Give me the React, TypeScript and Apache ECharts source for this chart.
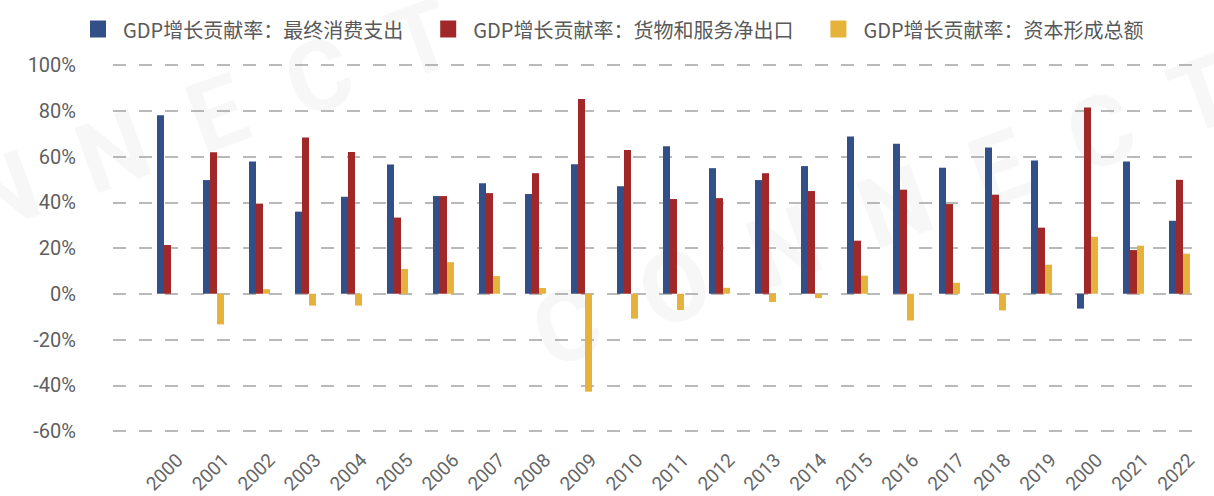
import React, { useEffect, useRef } from "react";
import * as echarts from "echarts";

const categories = [
  "2000", "2001", "2002", "2003", "2004", "2005", "2006", "2007", "2008", "2009",
  "2010", "2011", "2012", "2013", "2014", "2015", "2016", "2017", "2018", "2019",
  "2000", "2021", "2022",
];

const seriesNames = [
  "GDP增长贡献率：最终消费支出",
  "GDP增长贡献率：货物和服务净出口",
  "GDP增长贡献率：资本形成总额",
];

const consumption = [
  78.0, 49.7, 57.8, 35.9, 42.4, 56.5, 42.7, 48.3, 43.6, 56.6,
  47.0, 64.5, 54.9, 49.7, 55.8, 68.7, 65.6, 55.1, 63.9, 58.2,
  -6.5, 57.8, 31.9,
];

const netExports = [
  21.3, 61.9, 39.4, 68.3, 62.0, 33.3, 42.7, 44.0, 52.7, 85.1,
  62.8, 41.4, 41.8, 52.7, 44.9, 23.2, 45.5, 39.2, 43.3, 28.9,
  81.4, 19.1, 49.8,
];

const capital = [
  0, -13.4, 2.0, -5.2, -5.2, 10.8, 13.8, 7.7, 2.5, -42.8,
  -10.9, -7.1, 2.6, -3.6, -1.9, 7.9, -11.7, 4.8, -7.3, 12.7,
  24.9, 21.0, 17.5,
];

const yTicks = { min: -60, max: 100, interval: 20 };

const colors = ["#324f88", "#a02828", "#e5b33c"];

export default function App() {
  const ref = useRef<HTMLDivElement>(null);

  useEffect(() => {
    if (!ref.current) return;
    const chart = echarts.init(ref.current, undefined, { renderer: "svg" });
    const axisFont = "Roboto, 'Noto Sans', sans-serif";
    const wmStyle = {
      fontSize: 98,
      fontWeight: "bold",
      fontFamily: "Roboto, sans-serif",
      fill: "rgba(0,0,0,0.03)",
      textVerticalAlign: "middle",
      textAlign: "left",
    };
    chart.setOption({
      animation: false,
      backgroundColor: "#ffffff",
      color: colors,
      graphic: [
        {
          type: "text",
          x: -245,
          y: 283,
          rotation: 0.35,
          z: 0,
          silent: true,
          style: { ...wmStyle, text: "C  O  N  N  E  C  T" },
        },
        {
          type: "text",
          x: 537,
          y: 338,
          rotation: 0.35,
          z: 0,
          silent: true,
          style: { ...wmStyle, text: "C  O  N  N  E  C  T" },
        },
      ],
      legend: {
        data: seriesNames,
        left: 85,
        top: 14,
        icon: "rect",
        itemWidth: 16,
        itemHeight: 17,
        itemGap: 37,
        textStyle: {
          fontSize: 20,
          color: "#595959",
          fontFamily: "'Noto Sans CJK SC', sans-serif",
          padding: [0, 0, 0, 12],
        },
      },
      grid: [
        { left: 113, width: 1085, top: 65, height: 366 },
        { left: 144.5, width: 1058, top: 65, height: 366 },
        { left: 156.5, width: 1058, top: 65, height: 366 },
      ],
      xAxis: [
        {
          gridIndex: 0,
          type: "category",
          data: categories,
          show: false,
        },
        {
          gridIndex: 1,
          type: "category",
          data: categories,
          axisLine: { show: false },
          axisTick: { show: false },
          axisLabel: { show: false },
        },
        {
          gridIndex: 2,
          type: "category",
          data: categories,
          position: "bottom",
          axisLine: { show: false },
          axisTick: { show: false },
          axisLabel: {
            interval: 0,
            rotate: 45,
            margin: 26,
            fontSize: 19,
            color: "#666666",
            fontFamily: axisFont,
          },
        },
      ],
      yAxis: [
        {
          gridIndex: 0,
          type: "value",
          min: yTicks.min,
          max: yTicks.max,
          interval: yTicks.interval,
          axisLine: { show: false },
          axisTick: { show: false },
          axisLabel: {
            formatter: "{value}%",
            margin: 37,
            fontSize: 20,
            color: "#5f5f5f",
            fontFamily: axisFont,
          },
          splitLine: {
            show: true,
            lineStyle: { color: "#a3a3a3", width: 1.6, type: [13, 13] },
          },
        },
        {
          gridIndex: 1,
          type: "value",
          min: yTicks.min,
          max: yTicks.max,
          interval: yTicks.interval,
          show: false,
          splitLine: { show: false },
        },
        {
          gridIndex: 2,
          type: "value",
          min: yTicks.min,
          max: yTicks.max,
          interval: yTicks.interval,
          show: false,
          splitLine: { show: false },
        },
      ],
      series: [
        {
          name: seriesNames[0],
          type: "bar",
          xAxisIndex: 1,
          yAxisIndex: 1,
          data: consumption,
          barWidth: 7,
          barGap: "0%",
          z: 3,
        },
        {
          name: seriesNames[1],
          type: "bar",
          xAxisIndex: 1,
          yAxisIndex: 1,
          data: netExports,
          barWidth: 7,
          barGap: "0%",
          z: 3,
        },
        {
          name: seriesNames[2],
          type: "bar",
          xAxisIndex: 1,
          yAxisIndex: 1,
          data: capital,
          barWidth: 7,
          barGap: "0%",
          z: 3,
        },
      ],
    });
    return () => chart.dispose();
  }, []);

  return (
    <div
      ref={ref}
      style={{ position: "fixed", left: 0, top: 0, width: 1214, height: 496, background: "#fff" }}
    />
  );
}
